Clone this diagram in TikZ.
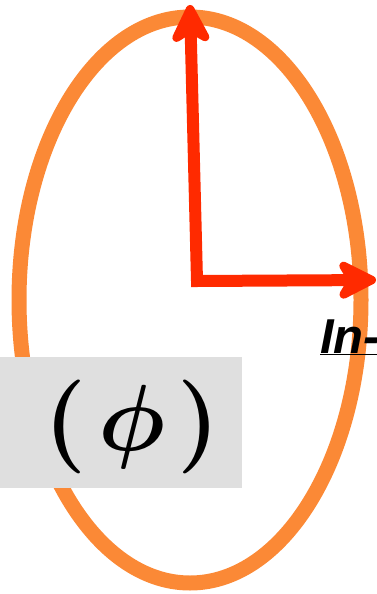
\documentclass[tikz,border=0pt]{standalone}
\usepackage{fontspec}
\newfontfamily\labelfont{Liberation Sans}
\usetikzlibrary{arrows.meta, shapes.geometric}
\definecolor{ringOrange}{RGB}{251,137,54}
\definecolor{axisRed}{RGB}{255,42,0}
\definecolor{panelGray}{RGB}{223,223,223}

\begin{document}
\begin{tikzpicture}[
    x=1pt, y=-1pt,
    ring/.style={ellipse, draw=ringOrange, line width=15pt, minimum width=342pt, minimum height=566pt, inner sep=0pt},
    panel/.style={rectangle, fill=panelGray, minimum width=242pt, minimum height=131pt, inner sep=0pt},
    axis/.style={draw=axisRed, line width=12pt, line join=miter, >={Stealth[length=48pt, width=48pt, inset=14pt, round]}, <->},
    inlabel/.style={font=\fontsize{49}{49}\selectfont\labelfont\bfseries\itshape, inner sep=0pt},
    philabel/.style={font=\boldmath, scale=9.4, inner sep=0pt}
]
\useasboundingbox (0,0) rectangle (377,594);

% Ellipse
\node[ring] (loop) at (190,300) {};

% Label box
\node[panel] (box) at (121,422.5) {};
\node[philabel] (phi) at (132,427) {$(\mkern2mu\phi\mkern2mu)$};

% Axes
\coordinate (origin) at (197,281);
\coordinate (uptip) at (190,5);
\coordinate (righttip) at (376,280);
\draw[axis] (uptip) -- (origin) -- (righttip);

\node[inlabel, anchor=base west] (inplane) at (320,353) {\underline{In-}};
\end{tikzpicture}
\end{document}
